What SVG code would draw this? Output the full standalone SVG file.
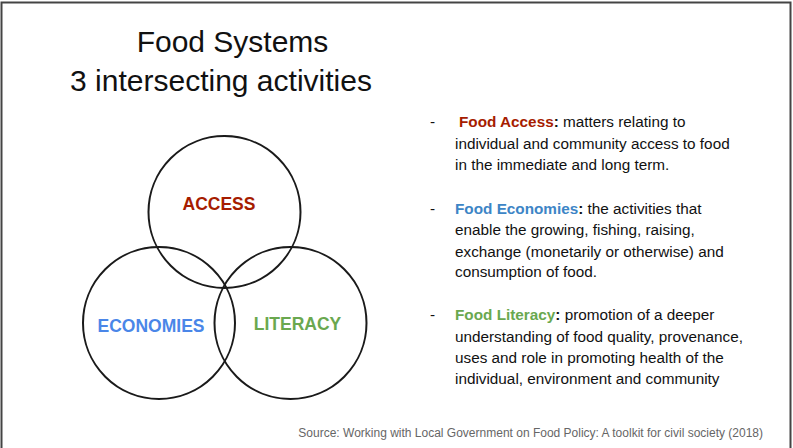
<svg xmlns="http://www.w3.org/2000/svg" width="793" height="448" viewBox="0 0 793 448">
<style>
  .title{font-family:"Liberation Sans",Arial,sans-serif;font-size:30px;fill:#111;text-anchor:middle}
  .ring{fill:none;stroke:#1a1a1a;stroke-width:2}
  .lbl{font-family:"Liberation Sans",Arial,sans-serif;font-size:17.5px;font-weight:bold;text-anchor:middle}
  .body{font-family:"Liberation Sans",Arial,sans-serif;font-size:15.3px;fill:#111}
  .b{font-weight:bold}
  .src{font-family:"Liberation Sans",Arial,sans-serif;font-size:12px;fill:#666;text-anchor:end}
</style>
<rect width="793" height="448" fill="#fff"/>
<path d="M1.5 448 V2.5 H790.5 V448" fill="none" stroke="#444" stroke-width="2"/>
<text class="title" x="232.5" y="52">Food Systems</text>
<text class="title" x="221" y="91">3 intersecting activities</text>
<g id="access"><circle class="ring" cx="224.5" cy="212" r="76"/><text class="lbl" x="219" y="210" fill="#a61c00">ACCESS</text></g>
<g id="economies"><circle class="ring" cx="159" cy="323" r="76"/><text class="lbl" x="151" y="331.5" fill="#4a86e8">ECONOMIES</text></g>
<g id="literacy"><circle class="ring" cx="290.5" cy="323" r="76"/><text class="lbl" x="297.5" y="329.5" fill="#6aa84f">LITERACY</text></g>
<g id="connectors"></g>
<g id="text-access" class="body">
  <text x="430" y="127">-</text>
  <text x="459" y="127"><tspan class="b" fill="#a61c00">Food Access</tspan><tspan class="b">:</tspan> matters relating to</text>
  <text x="455" y="148.5">individual and community access to food</text>
  <text x="455" y="170">in the immediate and long term.</text>
</g>
<g id="text-economies" class="body">
  <text x="430" y="213.5">-</text>
  <text x="455" y="213.5"><tspan class="b" fill="#3d85c6">Food Economies</tspan><tspan class="b">:</tspan> the activities that</text>
  <text x="455" y="235">enable the growing, fishing, raising,</text>
  <text x="455" y="256.5">exchange (monetarily or otherwise) and</text>
  <text x="455" y="277">consumption of food.</text>
</g>
<g id="text-literacy" class="body">
  <text x="430" y="320">-</text>
  <text x="455" y="320"><tspan class="b" fill="#6aa84f">Food Literacy</tspan><tspan class="b">:</tspan> promotion of a deeper</text>
  <text x="455" y="341.5">understanding of food quality, provenance,</text>
  <text x="455" y="363">uses and role in promoting health of the</text>
  <text x="455" y="384">individual, environment and community</text>
</g>
<text class="src" x="763" y="437">Source: Working with Local Government on Food Policy: A toolkit for civil society (2018)</text>
</svg>
